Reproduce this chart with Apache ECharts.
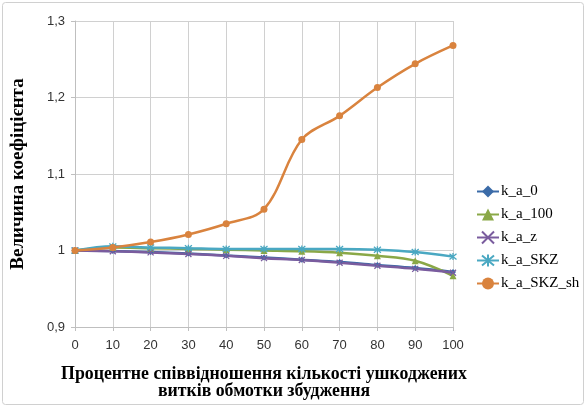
<!DOCTYPE html>
<html><head><meta charset="utf-8">
<script src="https://cdn.jsdelivr.net/npm/echarts@6/dist/echarts.min.js"></script>
<style>html,body{margin:0;padding:0;background:#fff}#c{width:587px;height:408px}</style>
</head><body><div id="c"></div>
<script>
var xValues = [0,10,20,30,40,50,60,70,80,90,100];
var k_a_0 = [1.000,0.9995,0.998,0.996,0.9935,0.991,0.988,0.985,0.981,0.977,0.972];
var k_a_100 = [1.000,1.004,1.003,1.002,1.001,1.000,0.999,0.997,0.993,0.9865,0.967];
var k_a_z = [1.000,0.9990,0.9975,0.9955,0.993,0.990,0.9875,0.984,0.980,0.976,0.971];
var k_a_SKZ = [1.000,1.0055,1.004,1.003,1.002,1.002,1.002,1.002,1.001,0.998,0.992];
var k_a_SKZ_sh = [1.000,1.004,1.011,1.021,1.035,1.054,1.145,1.176,1.213,1.244,1.268];
var yTicks = [0.9,1.0,1.1,1.2,1.3];
var seriesNames = ['k_a_0','k_a_100','k_a_z','k_a_SKZ','k_a_SKZ_sh'];

function pairs(v){ return xValues.map(function(x,i){return [x,v[i]];}); }
var colors = ['#3B6BA8','#8AA847','#7A5C9E','#4AA8C2','#D9833E'];
var xPath = 'path://M0,0L10,10M10,0L0,10';
var starPath = 'path://M0,0L10,10M10,0L0,10M5,-1L5,11';
var symbols = ['diamond','triangle',xPath,starPath,'circle'];
var sizes = [6,7,6,7,7];
var data = [k_a_0,k_a_100,k_a_z,k_a_SKZ,k_a_SKZ_sh];
var series = seriesNames.map(function(n,i){
  var strokeOnly = (i===2||i===3);
  return {
    name:n, type:'line', data:pairs(data[i]), smooth:0.35,
    symbol:symbols[i], symbolSize:sizes[i], showSymbol:true,
    lineStyle:{color:colors[i],width:2.5},
    itemStyle:{color:colors[i], borderColor:colors[i], borderWidth: strokeOnly?1.3:0},
    z: i===4?5:(i===3?4:3)
  };
});
var chart = echarts.init(document.getElementById('c'),null,{renderer:'canvas'});
chart.setOption({
  animation:false,
  backgroundColor:'#fff',
  color:colors,
  graphic:[{type:'rect',shape:{x:2.5,y:2.5,width:581,height:402,r:3},style:{fill:'none',stroke:'#d0d0d0',lineWidth:1},z:-1}],
  grid:{left:75,right:134,top:21,bottom:81},
  legend:{
    orient:'vertical', left:471, top:179, itemGap:8, itemWidth:22, itemHeight:15,
    textStyle:{fontFamily:'Liberation Serif',fontSize:15,color:'#000',padding:[0,0,0,-3]},
    data:seriesNames
  },
  xAxis:{
    type:'value', min:0, max:100, interval:10,
    name:'Процентне співвідношення кількості ушкоджених\nвитків обмотки збудження',
    nameLocation:'middle', nameGap:39,
    nameTextStyle:{fontFamily:'Liberation Serif',fontSize:17.8,fontWeight:'bold',color:'#000',lineHeight:17},
    axisLine:{show:true,lineStyle:{color:'#bfbfbf'}},
    axisTick:{show:true,length:4,lineStyle:{color:'#bfbfbf'}},
    axisLabel:{fontFamily:'Liberation Sans',fontSize:13,color:'#333',margin:12},
    splitLine:{show:true,lineStyle:{color:'#d0d0d0',width:1}}
  },
  yAxis:{
    type:'value', min:0.9, max:1.3, interval:0.1,
    name:'Величина коефіцієнта', nameLocation:'middle', nameGap:47,
    nameTextStyle:{fontFamily:'Liberation Serif',fontSize:19,fontWeight:'bold',color:'#000'},
    axisLine:{show:true,lineStyle:{color:'#bfbfbf'}},
    axisTick:{show:true,length:4,inside:false,lineStyle:{color:'#bfbfbf'}},
    axisLabel:{fontFamily:'Liberation Sans',fontSize:13,color:'#333',margin:10,
      formatter:function(v){var r=Math.round(v*10)/10; return (r===1?'1':r.toFixed(1)).replace('.',',');}},
    splitLine:{show:true,lineStyle:{color:'#d0d0d0',width:1}}
  },
  series:series
});
</script></body></html>
